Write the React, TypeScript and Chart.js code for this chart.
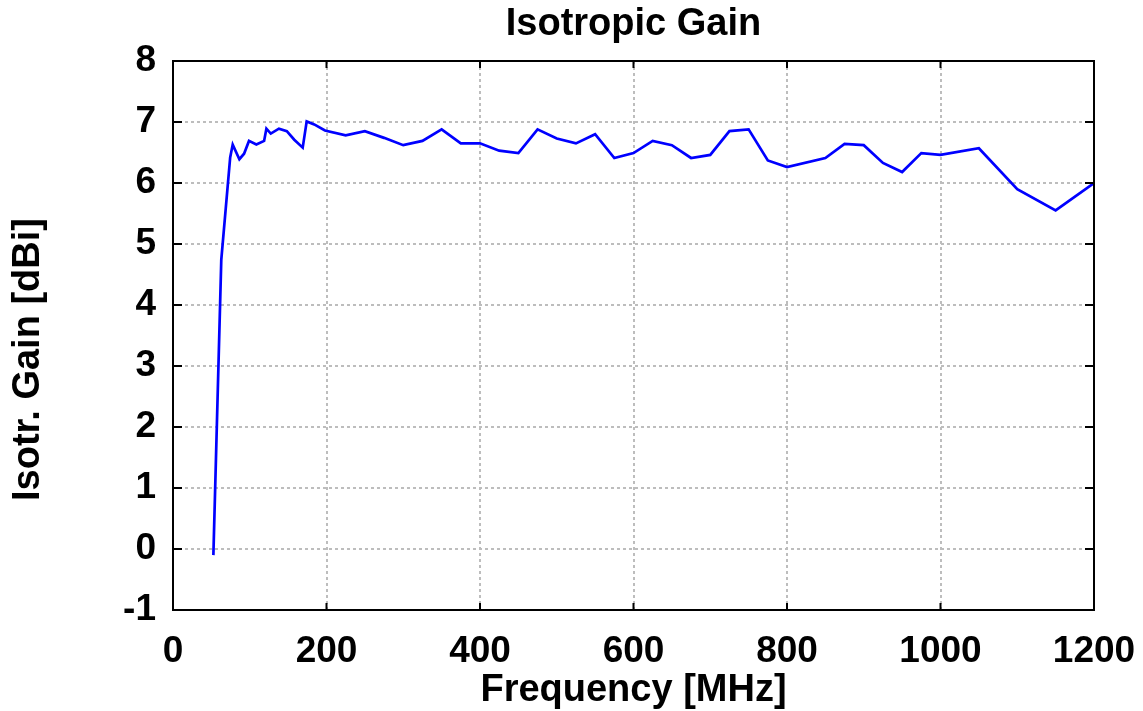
import React, { useEffect, useRef } from "react";
import { Chart, registerables } from "chart.js";

Chart.register(...registerables);

const chartTitle = "Isotropic Gain";
const xAxisTitle = "Frequency [MHz]";
const yAxisTitle = "Isotr. Gain [dBi]";

const freqMHz = [
  52.6, 62.9, 74.5, 77.8, 86.5, 92.6, 99, 108.6, 118.7, 121.7, 127.4, 138,
  148.3, 158, 169, 174.2, 184, 198, 225, 250, 275, 300, 325, 350, 375, 400,
  425, 450, 475, 500, 525, 550, 575, 600, 625, 650, 675, 700, 725, 750, 775,
  800, 850, 875, 900, 925, 950, 975, 1000, 1050, 1100, 1150, 1200,
];
const gainDbi = [
  -0.1, 4.74, 6.42, 6.63, 6.39, 6.48, 6.69, 6.63, 6.69, 6.89, 6.81, 6.89,
  6.85, 6.71, 6.58, 7.01, 6.96, 6.86, 6.78, 6.85, 6.74, 6.62, 6.69, 6.88,
  6.65, 6.65, 6.53, 6.49, 6.88, 6.73, 6.65, 6.8, 6.41, 6.49, 6.69, 6.62, 6.41,
  6.46, 6.85, 6.88, 6.37, 6.26, 6.41, 6.64, 6.62, 6.33, 6.18, 6.49, 6.46, 6.57,
  5.9, 5.55, 6.0,
];

const xMin = 0;
const xMax = 1200;
const xStep = 200;
const yMin = -1;
const yMax = 8;
const yStep = 1;

const FONT = '"Liberation Sans", Arial, sans-serif';

const framePlugin = {
  id: "frameTicks",
  afterDraw(chart: any) {
    const { ctx, chartArea, scales } = chart;
    const { left, right, top, bottom } = chartArea;
    const xs = scales.x;
    const ys = scales.y;
    ctx.save();
    ctx.strokeStyle = "#000";
    ctx.lineWidth = 2;
    ctx.beginPath();
    xs.ticks.forEach((t: any) => {
      const px = xs.getPixelForValue(t.value);
      ctx.moveTo(px, bottom);
      ctx.lineTo(px, bottom - 7);
      ctx.moveTo(px, top);
      ctx.lineTo(px, top + 7);
    });
    ys.ticks.forEach((t: any) => {
      const py = ys.getPixelForValue(t.value);
      ctx.moveTo(left, py);
      ctx.lineTo(left + 9, py);
      ctx.moveTo(right, py);
      ctx.lineTo(right - 9, py);
    });
    ctx.stroke();
    ctx.strokeRect(left, top, right - left, bottom - top);

    ctx.translate(28.5, (top + bottom) / 2 + 24);
    ctx.rotate(-Math.PI / 2);
    ctx.font = `bold 38px ${FONT}`;
    ctx.fillStyle = "#000";
    ctx.textAlign = "center";
    ctx.textBaseline = "middle";
    ctx.fillText(yAxisTitle, 0, 0);
    ctx.restore();
  },
};

export default function App() {
  const canvasRef = useRef<HTMLCanvasElement | null>(null);

  useEffect(() => {
    const canvas = canvasRef.current;
    if (!canvas) return;
    const points = freqMHz.map((f, i) => ({ x: f, y: gainDbi[i] }));
    const chart = new Chart(canvas, {
      type: "line",
      data: {
        datasets: [
          {
            data: points,
            borderColor: "#0000ff",
            borderWidth: 2.7,
            pointRadius: 0,
            tension: 0,
            fill: false,
          },
        ],
      },
      options: {
        animation: false,
        responsive: false,
        maintainAspectRatio: false,
        layout: { padding: { left: 0, right: 49, top: 0, bottom: 0 } },
        plugins: {
          legend: { display: false },
          tooltip: { enabled: false },
          title: {
            display: true,
            text: chartTitle,
            color: "#000",
            fullSize: false,
            font: { family: FONT, size: 38, weight: "bold", lineHeight: 1.2 },
            padding: { top: 2, bottom: 13.4 },
          },
        },
        scales: {
          x: {
            type: "linear",
            min: xMin,
            max: xMax,
            ticks: {
              stepSize: xStep,
              color: "#000",
              padding: 20,
              font: { family: FONT, size: 37, weight: "bold" },
              maxRotation: 0,
              callback: (v: any) => String(v),
            },
            grid: {
              color: "#bdbdbd",
              lineWidth: 2,
              drawTicks: false,
            },
            border: { display: false, dash: [3, 3] },
            title: {
              display: true,
              text: xAxisTitle,
              color: "#000",
              font: { family: FONT, size: 38, weight: "bold", lineHeight: 1.1 },
              padding: { top: 0, bottom: 0 },
            },
            afterFit: (s: any) => {
              s.height = 101;
              s.paddingLeft = 0;
              s.paddingRight = 0;
            },
          },
          y: {
            type: "linear",
            min: yMin,
            max: yMax,
            ticks: {
              stepSize: yStep,
              color: "#000",
              padding: 17,
              font: { family: FONT, size: 37, weight: "bold" },
              callback: (v: any) => String(v),
            },
            grid: {
              color: "#bdbdbd",
              lineWidth: 2,
              drawTicks: false,
            },
            border: { display: false, dash: [3, 3] },
            afterFit: (s: any) => {
              s.width = 173;
              s.paddingTop = 0;
              s.paddingBottom = 0;
            },
          },
        },
      },
      plugins: [framePlugin],
    });
    return () => chart.destroy();
  }, []);

  return (
    <div
      style={{
        position: "fixed",
        left: 0,
        top: 0,
        width: 1143,
        height: 711,
        background: "#fff",
      }}
    >
      <canvas
        ref={canvasRef}
        width={1143}
        height={711}
        style={{ display: "block", width: 1143, height: 711 }}
      />
    </div>
  );
}
